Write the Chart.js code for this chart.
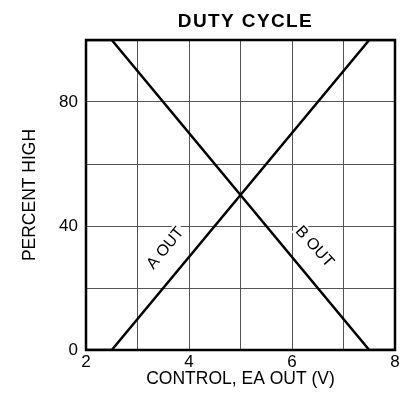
<!DOCTYPE html>
<html><head><meta charset="utf-8">
<script src="https://cdn.jsdelivr.net/npm/chart.js@4"></script>
<style>html,body{margin:0;padding:0;background:#fff}#wrap{width:419px;height:401px}</style>
</head><body><div id="wrap"><canvas id="c" width="419" height="401"></canvas></div>
<script>
const aOutX = [2, 2.5, 7.5, 8];
const aOutY = [0, 0, 100, 100];
const bOutX = [2, 2.5, 7.5, 8];
const bOutY = [100, 100, 0, 0];
const xTickLabels = [2, 4, 6, 8];
const yTickLabels = [0, 40, 80];
const lineLabels = [
  {text: 'A OUT', x: 3.53, y: 33, angle: -51},
  {text: 'B OUT', x: 6.45, y: 33.5, angle: 48}
];
const FONT = "'Liberation Sans', Arial, Helvetica, sans-serif";

const pts = (xs, ys) => xs.map((x, i) => ({x, y: ys[i]}));

const decor = {
  id: 'decor',
  afterDatasetsDraw(chart) {
    const {ctx, chartArea: a, scales} = chart;
    ctx.save();
    ctx.strokeStyle = '#000';
    ctx.lineWidth = 2.5;
    ctx.strokeRect(a.left, a.top, a.right - a.left, a.bottom - a.top);
    ctx.font = '16px ' + FONT;
    ctx.textAlign = 'center';
    ctx.textBaseline = 'middle';
    lineLabels.forEach(l => {
      const px = scales.x.getPixelForValue(l.x);
      const py = scales.y.getPixelForValue(l.y);
      ctx.save();
      ctx.translate(px, py);
      ctx.rotate(l.angle * Math.PI / 180);
      const w = ctx.measureText(l.text).width;
      ctx.fillStyle = '#fff';
      ctx.fillRect(-w / 2 - 2, -8, w + 4, 16);
      ctx.fillStyle = '#000';
      ctx.fillText(l.text, 0, 1);
      ctx.restore();
    });
    ctx.font = 'bold 19px ' + FONT;
    ctx.letterSpacing = '1.4px';
    ctx.fillStyle = '#000';
    ctx.fillText('DUTY CYCLE', 245.5, 22);
    ctx.restore();
  }
};

new Chart(document.getElementById('c'), {
  type: 'line',
  data: {
    datasets: [
      {label: 'A OUT', data: pts(aOutX, aOutY), borderColor: '#000', borderWidth: 2.5, pointRadius: 0, tension: 0},
      {label: 'B OUT', data: pts(bOutX, bOutY), borderColor: '#000', borderWidth: 2.5, pointRadius: 0, tension: 0}
    ]
  },
  options: {
    responsive: false,
    animation: false,
    devicePixelRatio: 1,
    layout: {padding: {top: 40, right: 24, left: 20, bottom: 0}},
    plugins: {legend: {display: false}, title: {display: false}, tooltip: {enabled: false}},
    scales: {
      x: {
        type: 'linear', min: 2, max: 8,
        afterFit(s) { s.height = 51; },
        grid: {color: '#555', lineWidth: 1, drawTicks: false, tickLength: 0},
        border: {display: false},
        ticks: {stepSize: 1, padding: 2, color: '#000', font: {family: FONT, size: 17},
          callback: v => xTickLabels.includes(v) ? String(v) : ''},
        title: {display: true, text: 'CONTROL, EA OUT (V)', color: '#000', font: {family: FONT, size: 17.5}, padding: {top: 0, bottom: 11}}
      },
      y: {
        type: 'linear', min: 0, max: 100,
        afterFit(s) { s.width = 66; },
        grid: {color: '#555', lineWidth: 1, drawTicks: false, tickLength: 0},
        border: {display: false},
        ticks: {stepSize: 20, padding: 8, color: '#000', font: {family: FONT, size: 17},
          callback: v => yTickLabels.includes(v) ? String(v) : ''},
        title: {display: true, text: 'PERCENT HIGH', color: '#000', font: {family: FONT, size: 17.5}, padding: {top: 0, bottom: 0}}
      }
    }
  },
  plugins: [decor]
});
</script></body></html>
